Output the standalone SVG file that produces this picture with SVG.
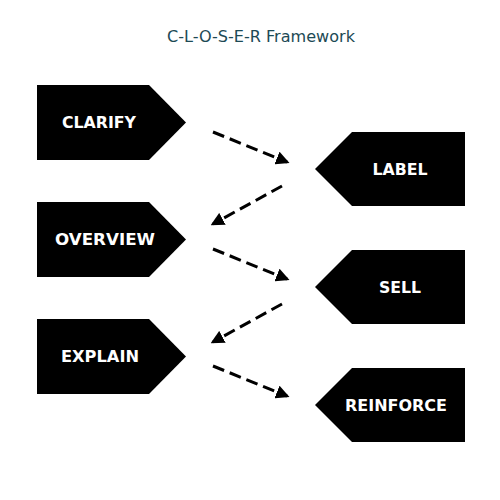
<svg xmlns="http://www.w3.org/2000/svg" width="500" height="500" viewBox="0 0 500 500">
<defs>
<style>
.n{fill:#000}
.t{fill:#fff;font-family:"DejaVu Sans","Open Sans",sans-serif;font-weight:bold;font-size:15px;text-anchor:middle}
.c{stroke:#000;stroke-width:3;stroke-dasharray:12 6;fill:none}
.title{fill:#1d4a55;font-family:"DejaVu Sans","Open Sans",sans-serif;font-size:15px;text-anchor:middle}
</style>
<marker id="ah" viewBox="0 0 10 10" refX="8" refY="5" markerWidth="4.5" markerHeight="4.5" orient="auto" markerUnits="strokeWidth">
<path d="M0,0 L10,5 L0,10 z" fill="#000"/>
</marker>
</defs>
<rect width="500" height="500" fill="#fff"/>
<text class="title" x="261" y="42" textLength="188" lengthAdjust="spacingAndGlyphs">C-L-O-S-E-R Framework</text>
<g id="clarify"><path class="n" d="M37,85 H149 L186,122.5 L149,160 H37 Z"/><text class="t" x="99" y="128" textLength="74" lengthAdjust="spacingAndGlyphs">CLARIFY</text></g>
<g id="overview"><path class="n" d="M37,202 H149 L186,239.5 L149,277 H37 Z"/><text class="t" x="105" y="245" textLength="100" lengthAdjust="spacingAndGlyphs">OVERVIEW</text></g>
<g id="explain"><path class="n" d="M37,319 H149 L186,356.5 L149,394 H37 Z"/><text class="t" x="100" y="362" textLength="78" lengthAdjust="spacingAndGlyphs">EXPLAIN</text></g>
<g id="label"><path class="n" d="M465,132 H352 L315,169 L352,206 H465 Z"/><text class="t" x="400" y="175" textLength="55" lengthAdjust="spacingAndGlyphs">LABEL</text></g>
<g id="sell"><path class="n" d="M465,250 H352 L315,287 L352,324 H465 Z"/><text class="t" x="400" y="293" textLength="42" lengthAdjust="spacingAndGlyphs">SELL</text></g>
<g id="reinforce"><path class="n" d="M465,368 H352 L315,405 L352,442 H465 Z"/><text class="t" x="396" y="411" textLength="102" lengthAdjust="spacingAndGlyphs">REINFORCE</text></g>
<g id="connectors">
<line class="c" x1="213" y1="132" x2="287" y2="162" marker-end="url(#ah)"/>
<line class="c" x1="282" y1="186" x2="213" y2="224" marker-end="url(#ah)"/>
<line class="c" x1="213" y1="249" x2="287" y2="279" marker-end="url(#ah)"/>
<line class="c" x1="282" y1="304" x2="213" y2="342" marker-end="url(#ah)"/>
<line class="c" x1="213" y1="366" x2="287" y2="396" marker-end="url(#ah)"/>
</g>
</svg>
